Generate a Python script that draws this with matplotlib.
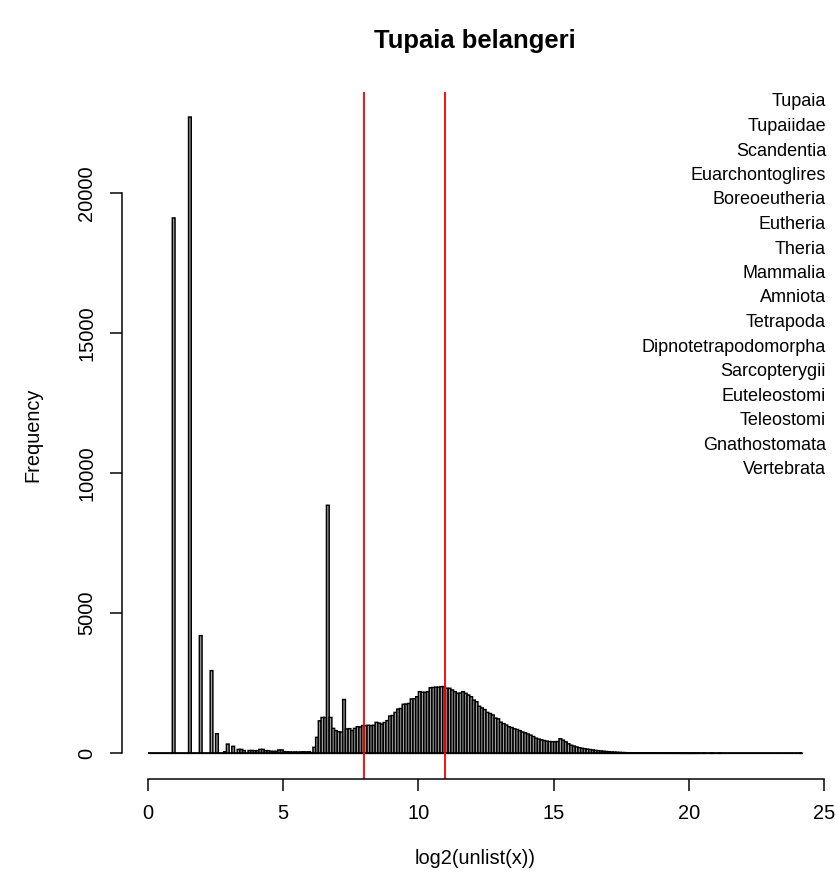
import matplotlib
matplotlib.use('Agg')
import matplotlib.pyplot as plt
import numpy as np

plt.rcParams['font.family'] = ['Liberation Sans', 'DejaVu Sans']

# ── DATA ──────────────────────────────────────────────────
title = "Tupaia belangeri"
xlabel = "log2(unlist(x))"
ylabel = "Frequency"
bin_width = 0.1

# counts per bin, bins start at 0.0
counts_low = [0, 0, 0, 0, 0, 0, 0, 0, 0, 19100,          # 0.0 - 0.9
              0, 0, 0, 0, 0, 22700, 0, 0, 0, 4200,       # 1.0 - 1.9
              0, 0, 0, 2950, 0, 700, 0, 0, 55, 330,      # 2.0 - 2.9
              0, 250, 0, 140, 140, 100, 0, 100, 100, 95,  # 3.0 - 3.9
              95, 140, 140, 95, 95, 70, 70, 70, 120, 120, # 4.0 - 4.9
              60, 55, 50, 45, 50, 45, 50, 55, 50, 55,     # 5.0 - 5.9
              30, 215, 570, 1160, 1280, 1280, 8850]       # 6.0 - 6.6
counts_mid = [1280, 890, 810,                              # 6.7 - 6.9
              770, 760, 1920, 870, 880, 810, 890, 950, 940, 990,        # 7.x
              990, 1000, 990, 1000, 1105, 1080, 1045, 1100, 1165, 1330, # 8.x
              1350, 1460, 1580, 1600, 1750, 1760, 1780, 1940, 1950, 2020, # 9.x
              2200, 2180, 2175, 2200, 2340, 2350, 2360, 2360, 2380, 2380, # 10.x
              2320, 2320, 2260, 2200, 2140, 2150, 2200, 2140, 2080, 2020, # 11.x
              1900, 1840, 1680, 1620, 1560, 1460, 1420, 1370, 1260, 1230, # 12.x
              1110, 1060, 1010, 950, 920, 875, 850, 810, 760, 730,        # 13.x
              690, 650, 600, 540, 510, 480, 455, 435, 420, 415,           # 14.x
              415, 420, 520, 470, 410, 340, 290, 260, 230, 200]           # 15.x
counts_tail = [180, 165, 150, 135, 120, 105, 95, 85, 75, 65,   # 16.x
               58, 50, 44, 38, 33, 29, 25, 22, 19, 17,         # 17.x
               15, 13, 11, 10, 9, 8, 7, 6, 5, 5,               # 18.x
               4, 4, 3, 3, 3, 2, 2, 2, 2, 1,                   # 19.x
               1, 1, 1, 1, 0, 1, 0, 0, 1, 0,                   # 20.x
               0, 1, 0, 0, 0, 0, 0, 0, 0, 0,                   # 21.x
               0, 0, 0, 0, 0, 0, 0, 0, 0, 0,                   # 22.x
               0, 0, 0, 0, 0, 0, 0, 0, 0, 0,                   # 23.x
               0, 1]                                           # 24.0 - 24.1

vlines = [8, 11]
xticks = [0, 5, 10, 15, 20, 25]
yticks = [0, 5000, 10000, 15000, 20000]

taxa = ["Tupaia", "Tupaiidae", "Scandentia", "Euarchontoglires",
        "Boreoeutheria", "Eutheria", "Theria", "Mammalia", "Amniota",
        "Tetrapoda", "Dipnotetrapodomorpha", "Sarcopterygii",
        "Euteleostomi", "Teleostomi", "Gnathostomata", "Vertebrata"]

counts = np.array(counts_low + counts_mid + counts_tail, dtype=float)
left = np.arange(len(counts)) * bin_width

# ── FIGURE ────────────────────────────────────────────────
W, H, DPI = 836, 885, 120
fig = plt.figure(figsize=(W / DPI, H / DPI), dpi=DPI)
ax = fig.add_axes([121.8 / W, 1 - 778.8 / H, (828.6 - 121.8) / W, (778.8 - 91.6) / H])

bars = ax.bar(left, counts, width=bin_width, align='edge', color='#a0a0a0',
              edgecolor='black', linewidth=0.9)
for b in bars:
    b.set_snap(False)
xmax = left[-1] + bin_width
ax.hlines(0, 0, xmax, color='black', linewidth=1.0)
for v in vlines:
    ax.axvline(v, color='red', linewidth=1.1)

ax.set_xlim(-0.04 * xmax, 1.04 * xmax)
ymax = counts.max()
ax.set_ylim(-0.04 * ymax, 1.04 * ymax)

for s in ['top', 'right']:
    ax.spines[s].set_visible(False)
ax.spines['left'].set_bounds(yticks[0], yticks[-1])
ax.spines['bottom'].set_bounds(xticks[0], xticks[-1])
ax.spines['left'].set_linewidth(0.9)
ax.spines['bottom'].set_linewidth(0.9)

ax.set_xticks(xticks)
ax.set_xticklabels([str(t) for t in xticks])
ax.set_yticks(yticks)
ax.set_yticklabels([str(t) for t in yticks], rotation=90, va='center')
ax.tick_params(axis='both', length=7.2, width=0.9, labelsize=12)
ax.tick_params(axis='x', pad=8)
ax.tick_params(axis='y', pad=8)

fig.text(475 / W, 1 - 41 / H, title, ha='center', va='center',
         fontsize=15.4, fontweight='bold')
fig.text(475 / W, 1 - 858 / H, xlabel, ha='center', va='center', fontsize=12)
fig.text(33 / W, 1 - 435 / H, ylabel, ha='center', va='center',
         fontsize=12, rotation=90)

for i, name in enumerate(taxa):
    fig.text(826 / W, 1 - (102 + i * 24.5) / H, name, ha='right', va='center',
             fontsize=10.8)

fig.savefig('out.png', dpi=DPI)
